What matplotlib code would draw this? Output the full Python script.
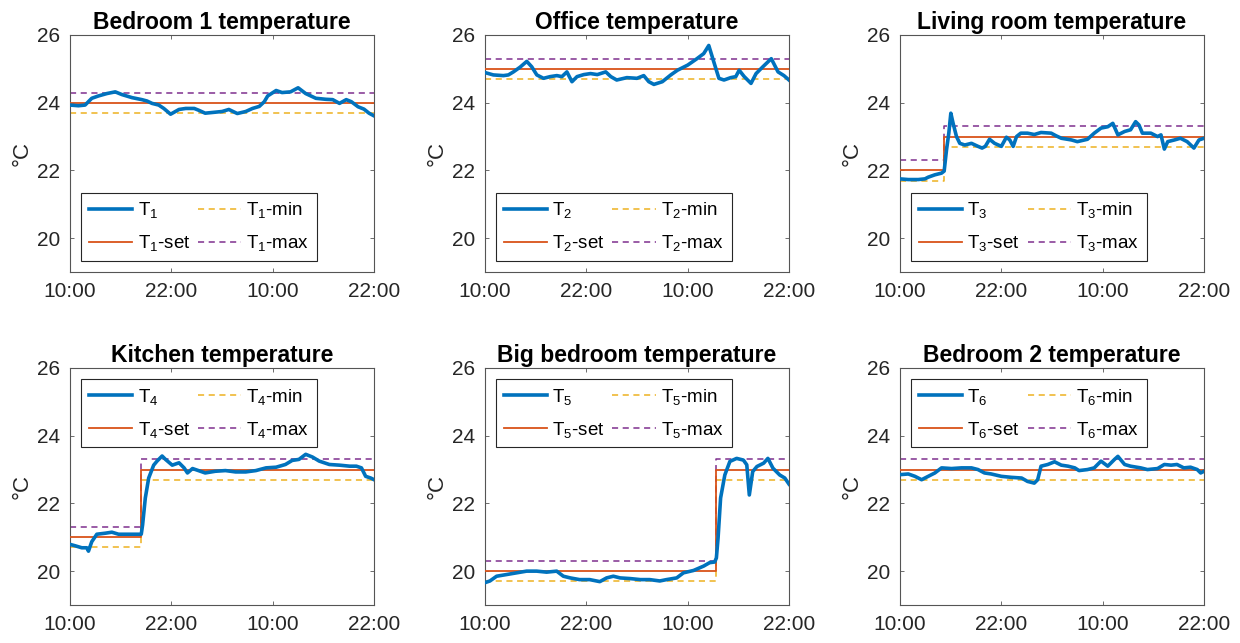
import matplotlib

matplotlib.use("Agg")
import matplotlib.pyplot as plt

OUTPUT_FILE = "out.png"

BLUE = "#0072BD"
ORANGE = "#D95319"
YELLOW = "#EDB120"
PURPLE = "#7E2F8E"

TITLES = [
    "Bedroom 1 temperature",
    "Office temperature",
    "Living room temperature",
    "Kitchen temperature",
    "Big bedroom temperature",
    "Bedroom 2 temperature",
]

X_TICKS = [0, 12, 24, 36]
X_TICK_LABELS = ["10:00", "22:00", "10:00", "22:00"]
Y_TICKS = [20, 22, 24, 26]

# hours since 10:00 on the first day, temperature in degC
HOURS_1 = [0, 0.99, 1.78, 2.57, 3.37, 4.36, 5.35, 6.14, 7.33, 8.51, 9.11, 9.7,
           10.5, 11.1, 11.9, 12.9, 13.7, 14.7, 15.2, 16.0, 17.2, 18.0, 18.8,
           19.8, 20.8, 21.6, 22.4, 23.0, 23.4, 24.4, 25.1, 26.1, 27.0, 27.9,
           29.1, 30.3, 31.1, 31.9, 32.7, 33.3, 34.1, 34.8, 35.4, 36.0]
TEMP_1 = [23.93, 23.91, 23.93, 24.13, 24.20, 24.27, 24.32, 24.24, 24.15, 24.09,
          24.05, 23.98, 23.93, 23.83, 23.66, 23.80, 23.83, 23.83, 23.78, 23.69,
          23.72, 23.74, 23.80, 23.68, 23.74, 23.83, 23.89, 24.03, 24.20, 24.36,
          24.30, 24.32, 24.44, 24.27, 24.13, 24.10, 24.09, 23.98, 24.09, 24.03,
          23.88, 23.81, 23.69, 23.61]

HOURS_2 = [0, 0.99, 2.18, 2.77, 3.37, 4.16, 4.95, 5.54, 6.14, 6.93, 7.72, 8.51,
           9.11, 9.7, 10.3, 10.9, 11.7, 12.5, 13.3, 14.3, 14.9, 15.6, 16.8,
           18.0, 18.8, 19.4, 20.0, 21.0, 22.0, 22.8, 24.0, 25.1, 25.9, 26.5,
           27.1, 27.7, 28.3, 29.1, 29.7, 30.1, 30.7, 31.5, 32.1, 32.9, 33.9,
           34.7, 35.4, 36.0]
TEMP_2 = [24.89, 24.82, 24.80, 24.82, 24.91, 25.05, 25.22, 25.06, 24.82, 24.72,
          24.77, 24.80, 24.77, 24.91, 24.62, 24.77, 24.83, 24.86, 24.83, 24.91,
          24.77, 24.67, 24.74, 24.72, 24.80, 24.62, 24.54, 24.62, 24.82, 24.96,
          25.11, 25.30, 25.45, 25.69, 25.20, 24.72, 24.67, 24.74, 24.77, 24.96,
          24.77, 24.57, 24.86, 25.06, 25.30, 24.91, 24.80, 24.67]

HOURS_3 = [0, 0.98, 2.16, 2.95, 3.34, 4.13, 4.92, 5.23, 5.51, 5.78, 6.02, 6.29,
           6.69, 7.08, 7.67, 8.46, 9.24, 9.72, 10.1, 10.6, 11.2, 12.0, 12.6,
           13.0, 13.4, 13.8, 14.3, 15.1, 15.9, 16.7, 17.9, 18.5, 19.1, 20.3,
           21.0, 22.2, 23.0, 23.8, 24.6, 25.2, 25.8, 26.6, 27.3, 27.9, 28.3,
           28.7, 29.7, 30.5, 30.9, 31.3, 31.7, 32.5, 33.2, 34.0, 34.8, 35.4,
           36.0]
TEMP_3 = [21.75, 21.73, 21.73, 21.75, 21.80, 21.87, 21.92, 21.98, 22.61, 23.10,
          23.69, 23.39, 23.00, 22.80, 22.75, 22.80, 22.71, 22.66, 22.71, 22.92,
          22.80, 22.71, 22.98, 22.90, 22.71, 23.00, 23.10, 23.10, 23.06, 23.12,
          23.10, 23.02, 22.95, 22.90, 22.85, 22.92, 23.10, 23.25, 23.29, 23.39,
          23.05, 23.15, 23.20, 23.44, 23.34, 23.10, 23.10, 23.00, 23.05, 22.63,
          22.85, 22.90, 22.95, 22.85, 22.66, 22.90, 22.95]

HOURS_4 = [0, 0.59, 1.39, 1.98, 2.18, 2.57, 3.17, 4.16, 4.95, 5.74, 6.93, 7.92,
           8.43, 8.59, 8.91, 9.31, 9.9, 10.3, 10.9, 11.3, 12.1, 12.9, 13.5,
           13.9, 14.5, 15.2, 16.0, 17.2, 18.4, 19.6, 20.8, 22.0, 23.2, 24.4,
           25.5, 26.3, 27.1, 27.9, 28.7, 29.5, 30.7, 31.9, 33.1, 33.9, 34.5,
           35.0, 35.6, 36.0]
TEMP_4 = [20.79, 20.75, 20.69, 20.69, 20.59, 20.87, 21.09, 21.12, 21.15, 21.09,
          21.09, 21.09, 21.09, 21.37, 22.16, 22.75, 23.13, 23.25, 23.40, 23.30,
          23.13, 23.20, 23.05, 22.90, 23.03, 22.97, 22.90, 22.95, 22.97, 22.93,
          22.93, 22.97, 23.05, 23.07, 23.15, 23.27, 23.30, 23.45, 23.37, 23.25,
          23.15, 23.13, 23.10, 23.10, 23.05, 22.80, 22.75, 22.70]

HOURS_5 = [0, 0.59, 1.38, 2.57, 3.75, 4.93, 6.12, 7.30, 8.49, 9.28, 10.1, 11.2,
           12.4, 13.6, 14.4, 15.2, 16.0, 17.2, 18.4, 19.5, 20.7, 21.5, 22.7,
           23.5, 24.7, 25.9, 26.6, 27.2, 27.4, 27.6, 27.9, 28.4, 29.0, 29.8,
           30.6, 31.0, 31.3, 31.7, 32.2, 33.0, 33.5, 34.1, 34.9, 35.5, 36.0]
TEMP_5 = [19.66, 19.71, 19.85, 19.90, 19.95, 20.00, 20.00, 19.97, 20.00, 19.85,
          19.80, 19.75, 19.75, 19.69, 19.80, 19.85, 19.80, 19.78, 19.75, 19.75,
          19.71, 19.75, 19.80, 19.95, 20.02, 20.15, 20.25, 20.27, 20.39, 20.98,
          22.16, 22.84, 23.24, 23.33, 23.28, 23.14, 22.25, 22.94, 23.09, 23.19,
          23.33, 23.04, 22.84, 22.75, 22.57]

HOURS_6 = [0, 0.98, 1.77, 2.56, 3.34, 4.13, 4.92, 6.10, 7.28, 8.46, 9.24, 10.0,
           10.8, 12.0, 13.2, 14.4, 15.1, 15.9, 16.3, 16.7, 17.5, 18.3, 19.1,
           19.9, 20.7, 21.2, 22.2, 23.0, 23.8, 24.6, 25.4, 25.8, 26.6, 27.3,
           28.5, 29.3, 30.5, 31.3, 32.1, 32.8, 33.6, 34.4, 35.2, 35.6, 36.0]
TEMP_6 = [22.85, 22.87, 22.80, 22.70, 22.80, 22.90, 23.05, 23.03, 23.05, 23.05,
          23.00, 22.90, 22.87, 22.80, 22.77, 22.75, 22.65, 22.60, 22.70, 23.10,
          23.15, 23.23, 23.13, 23.10, 23.05, 22.97, 23.00, 23.05, 23.25, 23.10,
          23.30, 23.39, 23.15, 23.10, 23.05, 23.00, 23.03, 23.15, 23.13, 23.15,
          23.05, 23.07, 23.00, 22.90, 22.95]

# setpoint schedule (step after each time), with comfort band limits
SET_HOURS = [
    [0, 36],
    [0, 36],
    [0, 5.23, 36],
    [0, 8.43, 36],
    [0, 27.3, 36],
    [0, 36],
]
SET_TEMP = [
    [24.0, 24.0],
    [25.0, 25.0],
    [22.0, 23.0, 23.0],
    [21.0, 23.0, 23.0],
    [20.0, 23.0, 23.0],
    [23.0, 23.0],
]
MIN_TEMP = [
    [23.7, 23.7],
    [24.7, 24.7],
    [21.7, 22.7, 22.7],
    [20.7, 22.7, 22.7],
    [19.7, 22.7, 22.7],
    [22.7, 22.7],
]
MAX_TEMP = [
    [24.3, 24.3],
    [25.3, 25.3],
    [22.3, 23.3, 23.3],
    [21.3, 23.3, 23.3],
    [20.3, 23.3, 23.3],
    [23.3, 23.3],
]

HOURS = [HOURS_1, HOURS_2, HOURS_3, HOURS_4, HOURS_5, HOURS_6]
TEMPS = [TEMP_1, TEMP_2, TEMP_3, TEMP_4, TEMP_5, TEMP_6]

COL_LEFT = [0.0565, 0.3911, 0.7258]
ROW_BOTTOM = [0.577, 0.0591]
AX_W = 0.2452
AX_H = 0.3686

plt.rcParams["font.family"] = ["Liberation Sans", "DejaVu Sans"]
plt.rcParams["mathtext.default"] = "regular"


def style_axes(ax):
    ax.set_xlim(0, 36)
    ax.set_ylim(19, 26)
    ax.set_xticks(X_TICKS)
    ax.set_xticklabels(X_TICK_LABELS)
    ax.set_yticks(Y_TICKS)
    ax.tick_params(direction="in", top=True, right=True, length=3,
                   width=0.6, labelsize=15, colors="#555555",
                   labelcolor="#262626", pad=7)
    for spine in ax.spines.values():
        spine.set_color("#555555")
        spine.set_linewidth(0.8)
    ax.set_ylabel("°C", fontsize=16, color="#262626", labelpad=3)


def draw_panel(ax, i):
    n = i + 1
    ax.plot(HOURS[i], TEMPS[i], color=BLUE, lw=2.6, label=f"T$_{n}$",
            zorder=4)
    ax.plot(SET_HOURS[i], SET_TEMP[i], color=ORANGE, lw=1.3,
            drawstyle="steps-post", label=f"T$_{n}$-set", zorder=3)
    ax.plot(SET_HOURS[i], MIN_TEMP[i], color=YELLOW, lw=1.1, ls=(0, (4, 3)),
            drawstyle="steps-post", label=f"T$_{n}$-min", zorder=2)
    ax.plot(SET_HOURS[i], MAX_TEMP[i], color=PURPLE, lw=1.1, ls=(0, (4, 3)),
            drawstyle="steps-post", label=f"T$_{n}$-max", zorder=2)
    ax.set_title(TITLES[i], fontsize=16.5, fontweight="bold", pad=4)
    loc = "lower left" if i < 3 else "upper left"
    leg = ax.legend(loc=loc, ncol=2, fontsize=13.5, frameon=True,
                    fancybox=False, edgecolor="#262626", framealpha=1,
                    handlelength=2.3, handletextpad=0.3, columnspacing=0.4,
                    labelspacing=0.7, borderpad=0.4, borderaxespad=0.6)
    leg.get_frame().set_linewidth(0.8)
    style_axes(ax)


def main():
    fig = plt.figure(figsize=(12.4, 6.43), dpi=100)
    for i in range(6):
        row, col = divmod(i, 3)
        ax = fig.add_axes([COL_LEFT[col], ROW_BOTTOM[row], AX_W, AX_H])
        draw_panel(ax, i)
    fig.savefig(OUTPUT_FILE, dpi=100)
    plt.close(fig)


if __name__ == "__main__":
    main()
